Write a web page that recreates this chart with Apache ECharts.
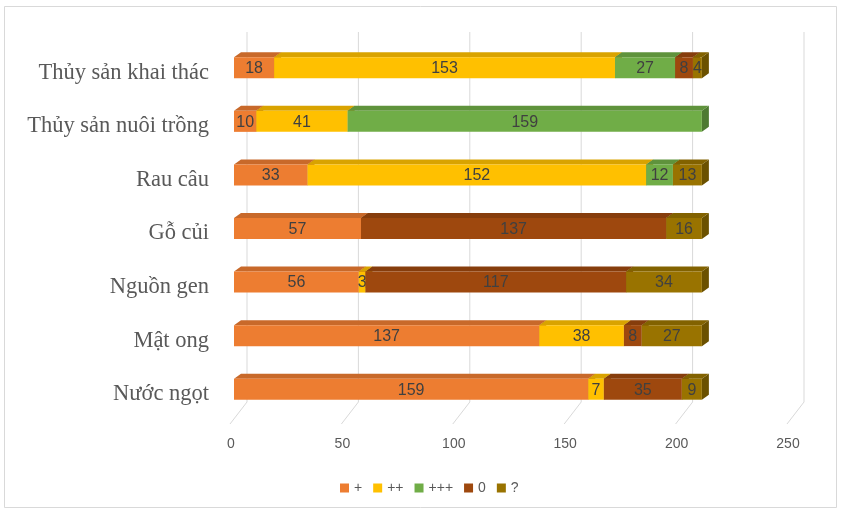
<!DOCTYPE html>
<html><head><meta charset="utf-8">
<script src="https://cdn.jsdelivr.net/npm/echarts@6/dist/echarts.min.js"></script>
<style>html,body{margin:0;padding:0;background:#fff}#c{width:841px;height:513px}</style>
</head><body><div id="c"></div>
<script>
const categories = ['Nước ngọt','Mật ong','Nguồn gen','Gỗ củi','Rau câu','Thủy sản nuôi trồng','Thủy sản khai thác'];
const seriesNames = ['+','++','+++','0','?'];
const plus   = [159,137,56,57,33,10,18];
const plus2  = [7,38,3,0,152,41,153];
const plus3  = [0,0,0,0,12,159,27];
const zero   = [35,8,117,137,0,0,8];
const unk    = [9,27,34,16,13,0,4];
const xTicks = [0,50,100,150,200,250];
const colors = ['#ED7D31','#FFC000','#70AD47','#9E480E','#997300'];
const topColors = ['#C8692A','#D9A300','#5F933C','#863D0C','#826200'];
const sideColors = ['#A55722','#B38600','#4E7A32','#6F320A','#6B5100'];

const allVals = [plus, plus2, plus3, zero, unk];
const starts = allVals.map(()=>[]);
for (let i=0;i<categories.length;i++){
  let acc=0;
  for (let s=0;s<allVals.length;s++){ starts[s][i]=acc; acc+=allVals[s][i]; }
}
const DX=7, DY=5, H=21, SHIFT=5;

function barRender(sIdx){
  return function(params, api){
    const v=api.value(0), cat=api.value(1), st=api.value(2);
    if(!v) return;
    const p0=api.coord([st,cat]), p1=api.coord([st+v,cat]);
    const yc=p0[1]-SHIFT, top=yc-H/2, bot=yc+H/2;
    const x0=p0[0], x1=p1[0];
    return {type:'group',children:[
      {type:'polygon',shape:{points:[[x1,top],[x1+DX,top-DY],[x1+DX,bot-DY],[x1,bot]]},style:{fill:sideColors[sIdx]}},
      {type:'polygon',shape:{points:[[x0,top],[x0+DX,top-DY],[x1+DX,top-DY],[x1,top]]},style:{fill:topColors[sIdx]}},
      {type:'rect',shape:{x:x0,y:top,width:x1-x0,height:H},style:{fill:colors[sIdx]}},
      {type:'text',x:(x0+x1)/2,y:yc+1,style:{text:String(v),fill:'#404040',font:'16px "Liberation Sans", sans-serif',align:'center',verticalAlign:'middle'}}
    ]};
  };
}

const series=[{
  type:'custom', name:'grid', silent:true, z:1,
  data:xTicks.map(t=>[t]),
  encode:{x:0},
  renderItem:function(params, api){
    const t=api.value(0);
    const p=api.coord([t,0]);
    const bottomY=params.coordSys.y+params.coordSys.height;
    const fx=p[0]-4, fy=bottomY+3, bx=p[0]+13, by=bottomY-19;
    return {type:'group',children:[
      {type:'line',shape:{x1:bx,y1:32,x2:bx,y2:by},style:{stroke:'#D9D9D9',lineWidth:1}},
      {type:'line',shape:{x1:fx,y1:fy,x2:bx,y2:by},style:{stroke:'#D9D9D9',lineWidth:1}}
    ]};
  }
}];
seriesNames.forEach((n,s)=>{
  series.push({
    type:'custom', name:n, z:2,
    itemStyle:{color:colors[s]},
    data:categories.map((c,i)=>[allVals[s][i], i, starts[s][i]]),
    encode:{x:[0,2],y:1},
    renderItem:barRender(s)
  });
});

const chart=echarts.init(document.getElementById('c'));
chart.setOption({
  animation:false,
  backgroundColor:'#fff',
  graphic:[{type:'rect',shape:{x:4.5,y:6.5,width:832,height:501},style:{fill:'none',stroke:'#D9D9D9',lineWidth:1},silent:true}],
  grid:{left:234,top:46,width:557,height:375},
  xAxis:{type:'value',min:0,max:250,interval:50,
    axisLine:{show:false},axisTick:{show:false},splitLine:{show:false},
    axisLabel:{margin:16,padding:[0,6,0,0],color:'#595959',fontSize:14,fontFamily:'"Liberation Sans", sans-serif'}},
  yAxis:{type:'category',data:categories,
    axisLine:{show:false},axisTick:{show:false},
    axisLabel:{margin:25,padding:[3,0,0,0],color:'#595959',fontSize:22.5,fontFamily:'"Liberation Serif", serif'}},
  legend:{data:seriesNames,left:335,top:476,icon:'rect',itemWidth:9,itemHeight:9,itemGap:11,
    textStyle:{color:'#595959',fontSize:14,fontFamily:'"Liberation Sans", sans-serif'}},
  series:series
});
</script></body></html>
